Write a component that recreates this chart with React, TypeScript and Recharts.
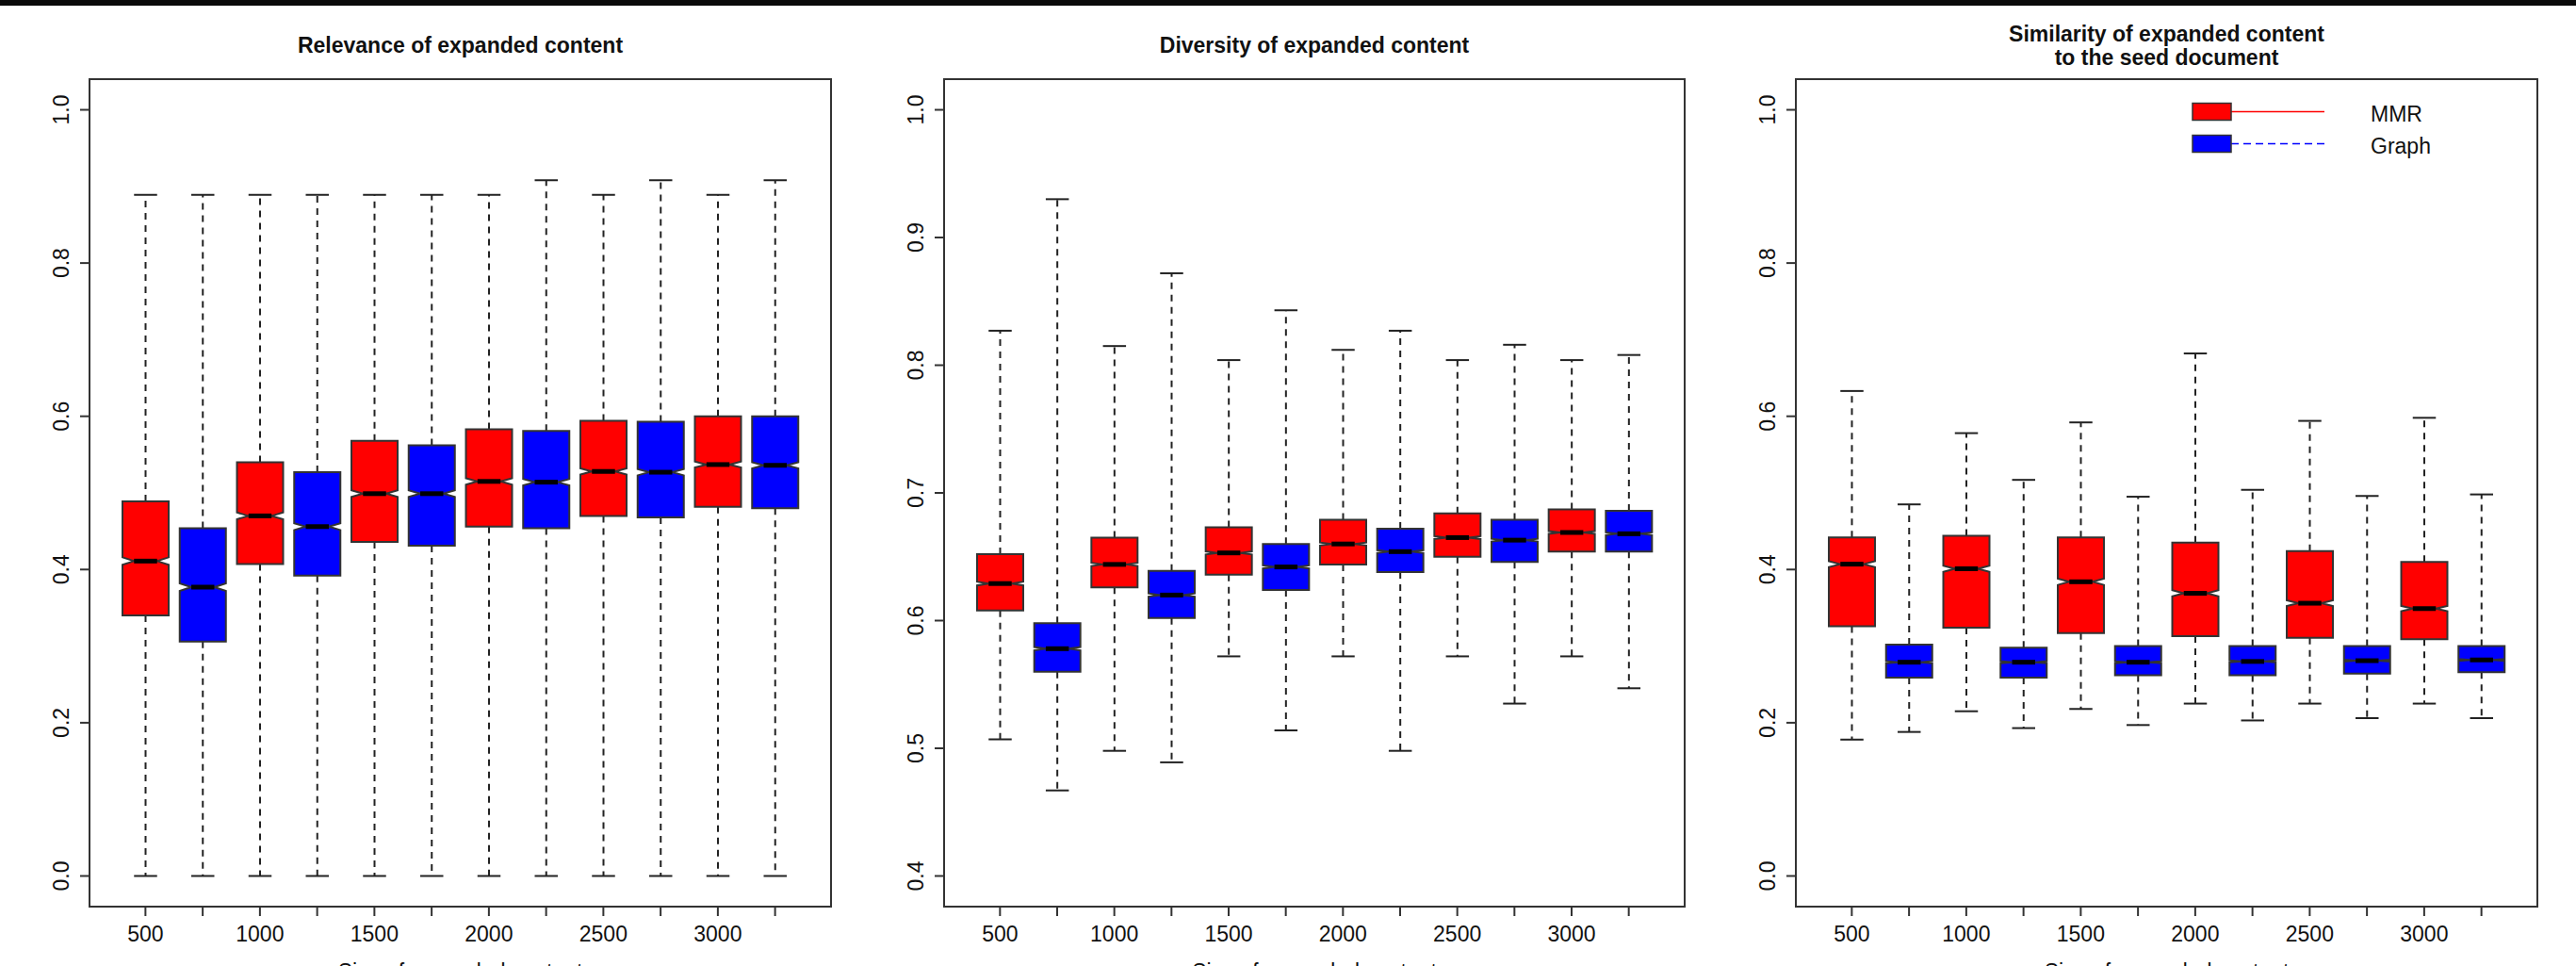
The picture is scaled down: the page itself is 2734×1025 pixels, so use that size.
import React from 'react'
import { ComposedChart, Bar, XAxis, YAxis } from 'recharts'

const sizes = [500, 1000, 1500, 2000, 2500, 3000]
const methods = ['MMR', 'Graph']
const methodColors = ['#ff0000', '#0000ff']

// box order: MMR 500, Graph 500, MMR 1000, Graph 1000, ...
const relevanceLow = [0, 0, 0, 0, 0, 0, 0, 0, 0, 0, 0, 0]
const relevanceQ1 = [0.34, 0.306, 0.407, 0.392, 0.436, 0.431, 0.456, 0.454, 0.47, 0.468, 0.482, 0.48]
const relevanceMed = [0.411, 0.377, 0.47, 0.456, 0.499, 0.499, 0.515, 0.514, 0.528, 0.527, 0.537, 0.536]
const relevanceQ3 = [0.489, 0.454, 0.54, 0.527, 0.568, 0.562, 0.583, 0.581, 0.594, 0.593, 0.6, 0.6]
const relevanceHigh = [0.889, 0.889, 0.889, 0.889, 0.889, 0.889, 0.889, 0.908, 0.889, 0.908, 0.889, 0.908]

const diversityLow = [0.507, 0.467, 0.498, 0.489, 0.572, 0.514, 0.572, 0.498, 0.572, 0.535, 0.572, 0.547]
const diversityQ1 = [0.608, 0.56, 0.626, 0.602, 0.636, 0.624, 0.644, 0.638, 0.65, 0.646, 0.654, 0.654]
const diversityMed = [0.629, 0.578, 0.644, 0.62, 0.653, 0.642, 0.66, 0.654, 0.665, 0.663, 0.669, 0.668]
const diversityQ3 = [0.652, 0.598, 0.665, 0.639, 0.673, 0.66, 0.679, 0.672, 0.684, 0.679, 0.687, 0.686]
const diversityHigh = [0.827, 0.93, 0.815, 0.872, 0.804, 0.843, 0.812, 0.827, 0.804, 0.816, 0.804, 0.808]

const similarityLow = [0.178, 0.188, 0.215, 0.193, 0.218, 0.197, 0.225, 0.203, 0.225, 0.206, 0.225, 0.206]
const similarityQ1 = [0.326, 0.259, 0.324, 0.259, 0.317, 0.262, 0.313, 0.262, 0.311, 0.264, 0.309, 0.266]
const similarityMed = [0.407, 0.279, 0.401, 0.279, 0.384, 0.279, 0.369, 0.28, 0.356, 0.281, 0.349, 0.282]
const similarityQ3 = [0.442, 0.302, 0.444, 0.298, 0.442, 0.3, 0.435, 0.3, 0.424, 0.3, 0.41, 0.3]
const similarityHigh = [0.633, 0.485, 0.578, 0.517, 0.592, 0.495, 0.682, 0.504, 0.594, 0.496, 0.598, 0.498]

const unitTicks = [0, 0.2, 0.4, 0.6, 0.8, 1.0]
const diversityTicks = [0.4, 0.5, 0.6, 0.7, 0.8, 0.9, 1.0]

const SAMPLE_SIZE = 2300
const FONT = '"Liberation Sans", Arial, sans-serif'
const INK = '#333'
const PLOT_TOP = 84
const PLOT_HEIGHT = 878

const categories = sizes.flatMap((s) => methods.map((m) => `${m} ${s}`))
const xTickLabels = sizes.flatMap((s) => [String(s), ''])

function buildBoxes(low: number[], q1: number[], med: number[], q3: number[], high: number[]) {
  return categories.map((name, i) => ({
    name,
    low: low[i],
    q1: q1[i],
    med: med[i],
    q3: q3[i],
    high: high[i],
    color: methodColors[i % 2],
  }))
}

const panels = [
  {
    title: ['Relevance of expanded content'],
    data: buildBoxes(relevanceLow, relevanceQ1, relevanceMed, relevanceQ3, relevanceHigh),
    domain: [-0.04, 1.04],
    ticks: unitTicks,
    left: 95,
    width: 787,
    legend: false,
  },
  {
    title: ['Diversity of expanded content'],
    data: buildBoxes(diversityLow, diversityQ1, diversityMed, diversityQ3, diversityHigh),
    domain: [0.376, 1.024],
    ticks: diversityTicks,
    left: 1002,
    width: 786,
    legend: false,
  },
  {
    title: ['Similarity of expanded content', 'to the seed document'],
    data: buildBoxes(similarityLow, similarityQ1, similarityMed, similarityQ3, similarityHigh),
    domain: [-0.04, 1.04],
    ticks: unitTicks,
    left: 1906,
    width: 787,
    legend: true,
  },
]

// notched box drawn inside the [low, high] range the Bar hands us
function BoxShape(props: any) {
  const { x, y, width, height, payload } = props
  const top = Math.min(y, y + height)
  const bottom = Math.max(y, y + height)
  const span = payload.high - payload.low
  const py = (v: number) => top + ((payload.high - v) / span) * (bottom - top)
  const cx = x + width / 2
  const hw = width / 2
  const notch = (1.58 * (payload.q3 - payload.q1)) / Math.sqrt(SAMPLE_SIZE)
  const yq1 = py(payload.q1)
  const yq3 = py(payload.q3)
  const ym = py(payload.med)
  const yUp = py(payload.med + notch)
  const yDn = py(payload.med - notch)
  const yHi = py(payload.high)
  const yLo = py(payload.low)
  const st = hw * 0.5
  const pts = [
    [cx - hw, yq1], [cx - hw, yDn], [cx - hw / 2, ym], [cx - hw, yUp], [cx - hw, yq3],
    [cx + hw, yq3], [cx + hw, yUp], [cx + hw / 2, ym], [cx + hw, yDn], [cx + hw, yq1],
  ]
  return (
    <g>
      <line x1={cx} x2={cx} y1={yq3} y2={yHi} stroke="#222" strokeWidth={2} strokeDasharray="7 6" />
      <line x1={cx} x2={cx} y1={yq1} y2={yLo} stroke="#222" strokeWidth={2} strokeDasharray="7 6" />
      <line x1={cx - st} x2={cx + st} y1={yHi} y2={yHi} stroke="#222" strokeWidth={2} />
      <line x1={cx - st} x2={cx + st} y1={yLo} y2={yLo} stroke="#222" strokeWidth={2} />
      <polygon points={pts.map((p) => p.join(',')).join(' ')} fill={payload.color} stroke={INK} strokeWidth={2} />
      <line x1={cx - hw / 2} x2={cx + hw / 2} y1={ym} y2={ym} stroke="#000" strokeWidth={5} />
    </g>
  )
}

const XTick = ({ x, y, index }: any) => (
  <text x={x} y={y + 27} textAnchor="middle" fontSize={23} fontFamily={FONT} fill="#111">
    {xTickLabels[index]}
  </text>
)

const YTick = ({ x, y, payload }: any) => {
  const bx = x - 12
  return (
    <text
      x={bx}
      y={y}
      transform={`rotate(-90 ${bx} ${y})`}
      textAnchor="middle"
      fontSize={23}
      fontFamily={FONT}
      fill="#111"
    >
      {payload.value.toFixed(1)}
    </text>
  )
}

function Panel({ panel }: any) {
  const chartWidth = 95 + panel.width + 12
  const cx = 95 + panel.width / 2
  const titleY = panel.title.length === 1 ? [55.5] : [43.5, 68.5]
  return (
    <div style={{ position: 'absolute', left: panel.left - 95, top: 0 }}>
      <ComposedChart
        width={chartWidth}
        height={1025}
        data={panel.data}
        margin={{ top: PLOT_TOP, right: 12, bottom: 1025 - PLOT_TOP - PLOT_HEIGHT - 30, left: 35 }}
      >
        <XAxis
          dataKey="name"
          interval={0}
          padding={{ left: 29, right: 29 }}
          height={30}
          tickSize={10}
          tickMargin={0}
          tick={<XTick />}
          axisLine={false}
          tickLine={{ stroke: INK, strokeWidth: 2 }}
        />
        <YAxis
          type="number"
          domain={panel.domain}
          ticks={panel.ticks}
          allowDataOverflow
          width={60}
          tickSize={10}
          tickMargin={0}
          tick={<YTick />}
          axisLine={false}
          tickLine={{ stroke: INK, strokeWidth: 2 }}
        />
        <Bar
          dataKey={(d: any) => [d.low, d.high]}
          barSize={49}
          shape={<BoxShape />}
          isAnimationActive={false}
        />
        <rect x={95} y={PLOT_TOP} width={panel.width} height={PLOT_HEIGHT} fill="none" stroke={INK} strokeWidth={2} />
        <g>
          {panel.title.map((t: string, i: number) => (
            <text
              key={t}
              x={cx}
              y={titleY[i]}
              textAnchor="middle"
              fontSize={23}
              fontWeight="bold"
              fontFamily={FONT}
              fill="#111"
            >
              {t}
            </text>
          ))}
          <text x={cx} y={1039} textAnchor="middle" fontSize={23} fontFamily={FONT} fill="#111">
            Size of expanded content
          </text>
        </g>
        {panel.legend && (
          <g fontFamily={FONT} fontSize={23} fill="#111">
            {methods.map((m, i) => {
              const cy = 118.5 + i * 34
              return (
                <g key={m}>
                  <line
                    x1={95 + 462}
                    x2={95 + 561}
                    y1={cy}
                    y2={cy}
                    stroke={methodColors[i]}
                    strokeWidth={1.5}
                    strokeDasharray={i === 1 ? '8 5' : undefined}
                  />
                  <rect x={95 + 421} y={cy - 9} width={41} height={18} fill={methodColors[i]} stroke={INK} strokeWidth={1.5} />
                  <text x={95 + 610} y={cy + 10.5}>{m}</text>
                </g>
              )
            })}
          </g>
        )}
      </ComposedChart>
    </div>
  )
}

export default function App() {
  return (
    <div
      style={{
        position: 'absolute',
        left: 0,
        top: 0,
        width: 2734,
        height: 1025,
        overflow: 'hidden',
        background: '#fff',
      }}
    >
      {panels.map((p, i) => (
        <Panel key={i} panel={p} />
      ))}
      <div style={{ position: 'absolute', left: 0, top: 0, width: 2734, height: 6, background: '#0a0a0a' }} />
    </div>
  )
}
